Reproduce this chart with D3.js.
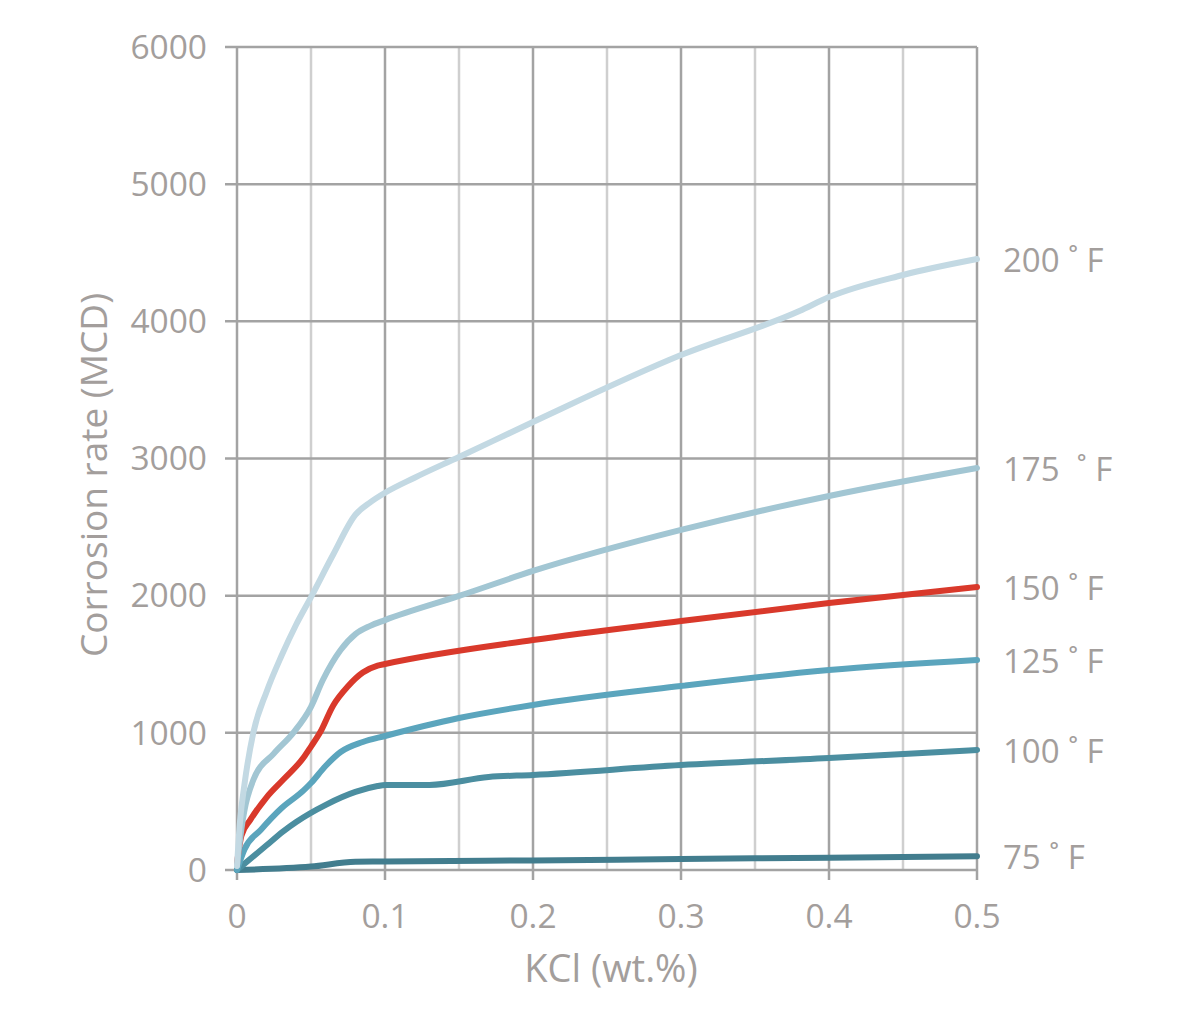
<!DOCTYPE html>
<html><head><meta charset="utf-8">
<script src="https://cdn.jsdelivr.net/npm/d3@7"></script>
<style>body{margin:0;background:#fff}svg{display:block}text{font-family:"Open Sans",sans-serif;fill:#a39e9c}</style>
</head><body>
<svg id="c" width="1200" height="1024"></svg>
<script>
const xTicks = [0, 0.1, 0.2, 0.3, 0.4, 0.5];
const xMinor = [0.05, 0.15, 0.25, 0.35, 0.45];
const yTicks = [0, 1000, 2000, 3000, 4000, 5000, 6000];
const seriesNames = ["200 ˚ F", "175  ˚ F", "150 ˚ F", "125 ˚ F", "100 ˚ F", "75 ˚ F"];
const seriesColors = ["#c3d9e3", "#a2c6d3", "#d9392b", "#5ba5bd", "#4b8ea0", "#427d8e"];
const s200 = [[0,30],[0.002,350],[0.005,620],[0.011,1000],[0.02,1300],[0.03,1560],[0.04,1790],[0.05,1990],[0.065,2300],[0.08,2590],[0.09,2680],[0.1,2750],[0.12,2860],[0.15,3011],[0.2,3266],[0.3,3754],[0.38,4075],[0.4,4177],[0.45,4338],[0.5,4454]];
const s175 = [[0,30],[0.003,300],[0.011,656],[0.025,850],[0.038,1000],[0.05,1190],[0.058,1385],[0.07,1604],[0.08,1720],[0.09,1780],[0.1,1822],[0.15,1998],[0.2,2180],[0.3,2479],[0.4,2727],[0.5,2931]];
const s150 = [[0,50],[0.003,250],[0.009,365],[0.02,530],[0.031,656],[0.045,820],[0.05,900],[0.056,1000],[0.065,1200],[0.075,1340],[0.085,1440],[0.095,1490],[0.1,1502],[0.2,1677],[0.3,1815],[0.4,1946],[0.5,2063]];
const s125 = [[0,0],[0.005,150],[0.016,292],[0.03,450],[0.045,580],[0.05,634],[0.06,760],[0.07,860],[0.085,933],[0.1,977],[0.15,1108],[0.2,1203],[0.3,1341],[0.4,1458],[0.5,1531]];
const s100 = [[0,0],[0.02,180],[0.031,280],[0.04,350],[0.06,475],[0.08,569],[0.095,612],[0.1,620],[0.13,620],[0.17,678],[0.2,693],[0.3,765],[0.4,816],[0.5,875]];
const s75 = [[0,0],[0.05,25],[0.08,60],[0.1,62],[0.2,70],[0.3,80],[0.4,90],[0.5,100]];
const series = [s200, s175, s150, s125, s100, s75];

const svg = d3.select("#c");
const x = d3.scaleLinear().domain([0, 0.5]).range([237, 977]);
const y = d3.scaleLinear().domain([0, 6000]).range([870, 47]);

const g = svg.append("g");
g.selectAll(".vm").data(xMinor).enter().append("line")
  .attr("x1", d => x(d)).attr("x2", d => x(d)).attr("y1", y(6000)).attr("y2", y(0))
  .attr("stroke", "#cfcfcf").attr("stroke-width", 2.5);
g.selectAll(".vM").data(xTicks).enter().append("line")
  .attr("x1", d => x(d)).attr("x2", d => x(d)).attr("y1", y(6000)).attr("y2", y(0) + 10)
  .attr("stroke", "#a3a3a3").attr("stroke-width", 2.5);
g.selectAll(".h").data(yTicks).enter().append("line")
  .attr("x1", x(0) - 12).attr("x2", x(0.5)).attr("y1", d => y(d)).attr("y2", d => y(d))
  .attr("stroke", "#a3a3a3").attr("stroke-width", 2.5);

g.selectAll(".yl").data(yTicks).enter().append("text")
  .attr("x", 207).attr("y", d => y(d)).attr("dy", "0.35em").attr("text-anchor", "end")
  .attr("font-size", 33.5).text(d => d);
g.selectAll(".xl").data(xTicks).enter().append("text")
  .attr("x", d => x(d)).attr("y", 928).attr("text-anchor", "middle")
  .attr("font-size", 33.5).text(d => d === 0 ? "0" : String(d));

svg.append("text").attr("x", 611).attr("y", 982).attr("text-anchor", "middle")
  .attr("font-size", 38).text("KCl (wt.%)");
svg.append("text").attr("transform", "translate(107,475) rotate(-90)").attr("text-anchor", "middle")
  .attr("font-size", 37).text("Corrosion rate (MCD)");

const line = d3.line().x(d => x(d[0])).y(d => y(d[1])).curve(d3.curveMonotoneX);
const order = [5, 4, 3, 2, 1, 0];
order.forEach(i => {
  svg.append("path").attr("d", line(series[i])).attr("fill", "none")
    .attr("stroke", seriesColors[i]).attr("stroke-width", 6).attr("stroke-linecap", "round");
});
series.forEach((s, i) => {
  const last = s[s.length - 1];
  svg.append("text").attr("x", 1003).attr("y", y(last[1]) + 1).attr("dy", "0.35em")
    .attr("font-size", 33).attr("xml:space", "preserve").style("white-space", "pre").text(seriesNames[i]);
});
</script>
</body></html>
